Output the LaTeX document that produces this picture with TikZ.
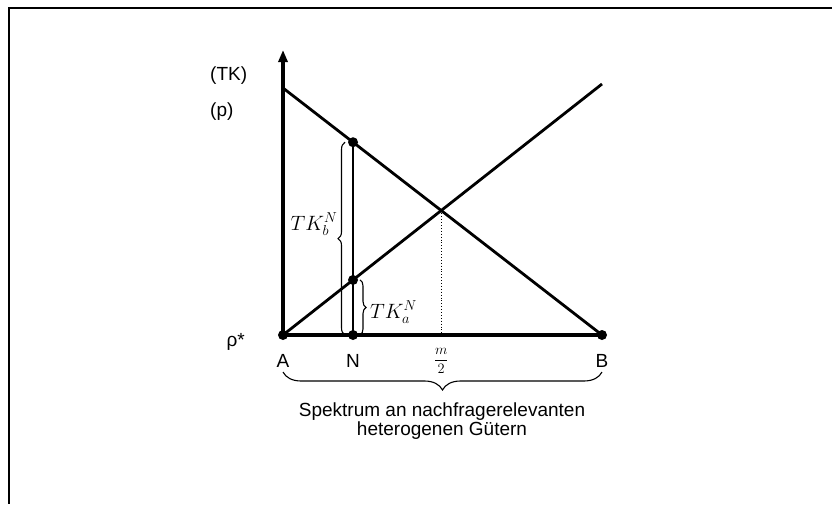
\documentclass[tikz,border=0pt]{standalone}
\usepackage{fontspec}
\setmainfont{Liberation Sans}
\usetikzlibrary{positioning,arrows.meta,decorations.pathreplacing}

\begin{document}
\begin{tikzpicture}[x=1pt, y=-1pt,
  node distance=14pt,
  dot/.style={circle, fill, inner sep=0pt, minimum size=10pt},
  axis/.style={line width=3.2pt},
  curve/.style={line width=2.8pt},
  lbl/.style={font=\fontsize{19}{19}\selectfont, inner sep=0pt},
  mlbl/.style={font=\fontsize{20}{24}\selectfont, inner sep=0pt},
  brc/.style={decorate, decoration={brace, amplitude=#1}, line width=1.1pt},
  brc/.default=7pt
]
\useasboundingbox (0,0) rectangle (832,504);
% frame (top and left only)
\draw[line width=1.8pt] (832,8) -- (9,8) -- (9,504);
% points
\node[dot] (A) at (283,335) {};
\node[dot] (B) at (602,335) {};
\node[dot] (N) at (353,335) {};
\coordinate (ytip) at (283,50);
\coordinate (pmax) at (283,88);
\coordinate (tkmax) at (602,84);
\coordinate (Nup) at (353,0);
\coordinate (S) at (intersection of pmax--B and A--tkmax);
\coordinate (M) at (S |- A);
\node[dot] (Nb) at (intersection of pmax--B and N--Nup) {};
\node[dot] (Na) at (intersection of A--tkmax and N--Nup) {};
% axes and lines
\draw[axis, -{Triangle[length=12pt,width=9pt]}] (A.center) -- (ytip);
\draw[axis] (A.center) -- (B.center);
\draw[curve] (pmax) -- (B.center);
\draw[curve] (A.center) -- (tkmax);
\draw[line width=1.6pt] (N.center) -- (Nb.center);
\draw[dotted, line width=0.9pt] (S) -- (M);
% braces
\draw[brc] ([xshift=-8pt]N.center) -- ([xshift=-8pt]Nb.center);
\draw[brc=6pt] ([xshift=7pt]Na.center) -- ([xshift=7pt]N.center);
\draw[brc=18pt] ([yshift=-37pt]B.center) -- ([yshift=-37pt]A.center);
% labels
\node[lbl, below=of A] (labA) {A};
\node[lbl, below=of N] (labN) {N};
\node[lbl, below=of B] (labB) {B};
\node[font=\fontsize{15}{18}\selectfont, inner sep=0pt] (half) at (M |- labA) {$\displaystyle\frac{m}{2}$};
\node[lbl, anchor=west] (tk) at (210,76) {(TK)};
\node[lbl, anchor=west] (p) at (210,112) {(p)};
\node[lbl, anchor=east] (rho) at (245,342) {ρ*};
\node[mlbl] (tkb) at (314,224) {$TK_b^N$};
\node[mlbl, anchor=west] (tka) at (370,312) {$TK_a^N$};
\node[lbl, align=center] (spek) at (442,421) {Spektrum an nachfragerelevanten\\heterogenen Gütern};
\end{tikzpicture}
\end{document}
